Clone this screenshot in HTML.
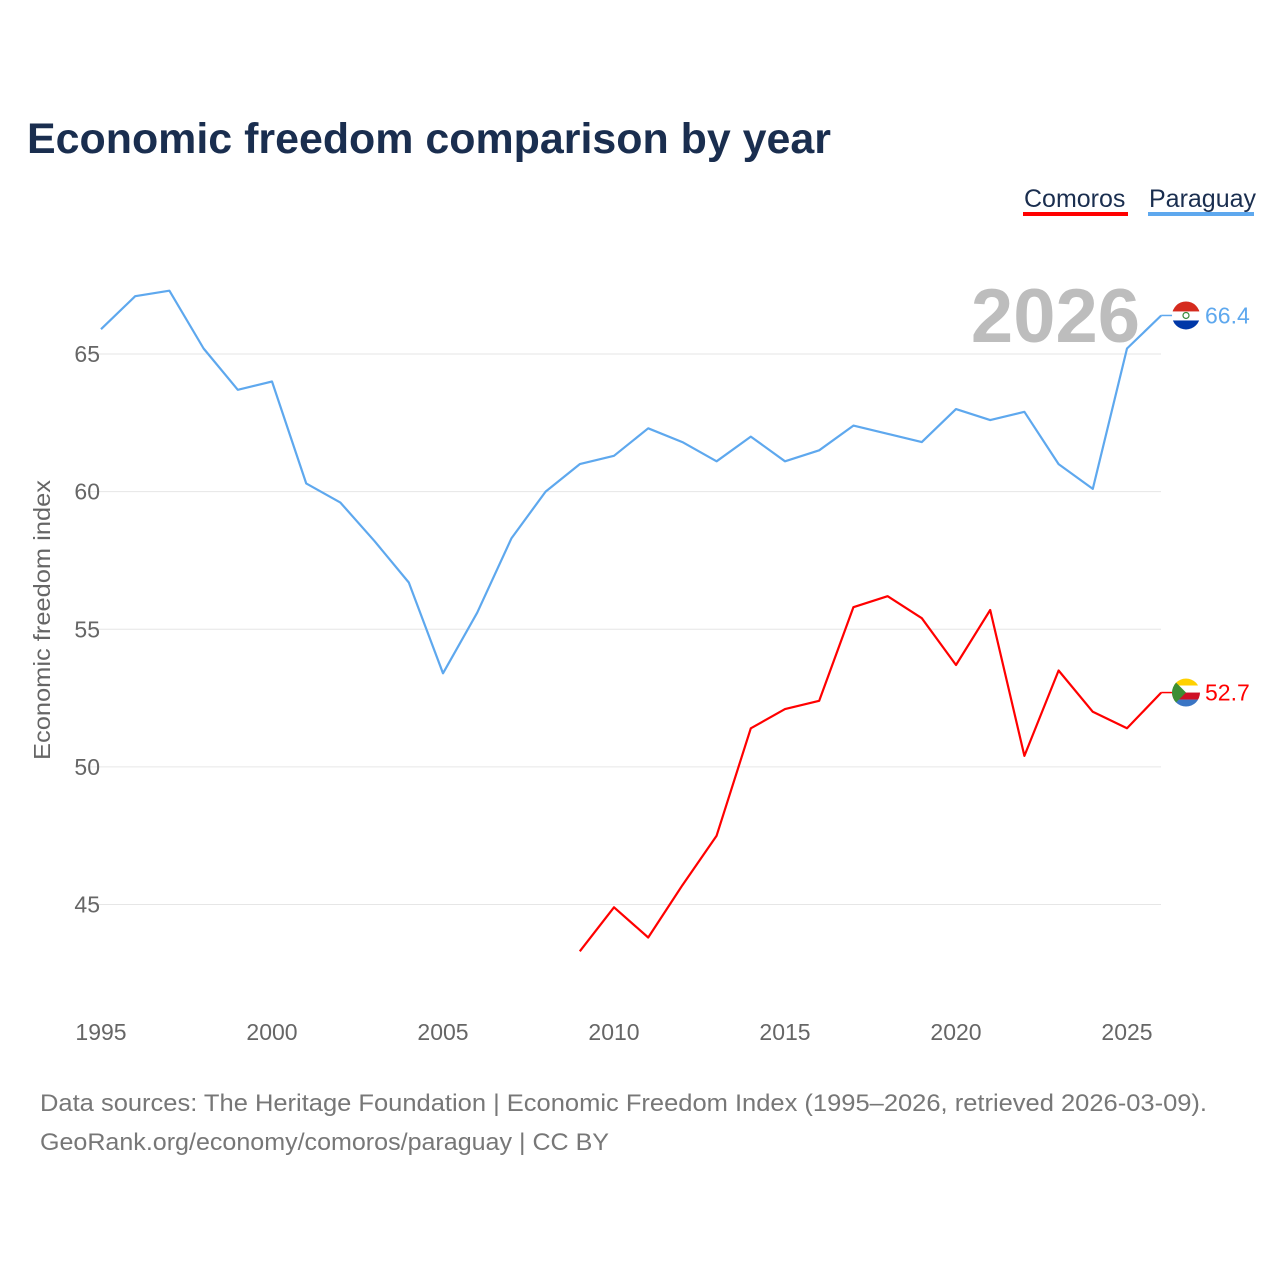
<!DOCTYPE html>
<html><head><meta charset="utf-8">
<style>
body{margin:0;background:#fff;font-family:"Liberation Sans",sans-serif;}
#wrap{position:relative;width:1280px;height:1280px;overflow:hidden;}
</style></head>
<body>
<div id="wrap">
<svg id="chart" width="1280" height="1280" xmlns="http://www.w3.org/2000/svg">
  <text x="27" y="153" font-size="43" font-weight="bold" fill="#1a2e4f" textLength="804" lengthAdjust="spacingAndGlyphs">Economic freedom comparison by year</text>
  <g>
    <text x="1024" y="207" font-size="25" fill="#1a2e4f">Comoros</text>
    <rect x="1023" y="212" width="105" height="4" fill="#ff0000"/>
    <text x="1149" y="207" font-size="25" fill="#1a2e4f">Paraguay</text>
    <rect x="1148" y="212" width="106" height="4" fill="#5ea8ee"/>
  </g>
  <g id="grid"></g>
  <g id="yticks"></g>
  <g id="xticks"></g>
  <text x="1140" y="342" text-anchor="end" font-size="76" font-weight="bold" fill="#bdbdbd">2026</text>
  <text transform="translate(50,620) rotate(-90)" text-anchor="middle" font-size="23" fill="#666" textLength="280" lengthAdjust="spacingAndGlyphs">Economic freedom index</text>
  <g id="series"></g>
  <text x="40" y="1111" font-size="24" fill="#777" textLength="1167" lengthAdjust="spacingAndGlyphs">Data sources: The Heritage Foundation | Economic Freedom Index (1995–2026, retrieved 2026-03-09).</text>
  <text x="40" y="1150" font-size="24" fill="#777" textLength="569" lengthAdjust="spacingAndGlyphs">GeoRank.org/economy/comoros/paraguay | CC BY</text>
</svg>
</div>
<script>
const years = [1995,1996,1997,1998,1999,2000,2001,2002,2003,2004,2005,2006,2007,2008,2009,2010,2011,2012,2013,2014,2015,2016,2017,2018,2019,2020,2021,2022,2023,2024,2025,2026];
const paraguay = [65.9,67.1,67.3,65.2,63.7,64.0,60.3,59.6,58.2,56.7,53.4,55.6,58.3,60.0,61.0,61.3,62.3,61.8,61.1,62.0,61.1,61.5,62.4,62.1,61.8,63.0,62.6,62.9,61.0,60.1,65.2,66.4];
const comorosYears = [2009,2010,2011,2012,2013,2014,2015,2016,2017,2018,2019,2020,2021,2022,2023,2024,2025,2026];
const comoros = [43.3,44.9,43.8,45.7,47.5,51.4,52.1,52.4,55.8,56.2,55.4,53.7,55.7,50.4,53.5,52.0,51.4,52.7];
const yTickValues = [45,50,55,60,65];
const xTickValues = [1995,2000,2005,2010,2015,2020,2025];

const NS="http://www.w3.org/2000/svg";
const xS = y => 101 + (y-1995)*(1127-101)/30;
const yS = v => 354 + (65-v)*(904.5-354)/20;
function mk(tag, attrs, parent){const e=document.createElementNS(NS,tag);for(const k in attrs)e.setAttribute(k,attrs[k]);parent.appendChild(e);return e;}
const grid=document.getElementById('grid'), yt=document.getElementById('yticks'), xt=document.getElementById('xticks'), ser=document.getElementById('series');
yTickValues.forEach(v=>{
  const l=mk('line',{x1:90,x2:1161,y1:yS(v),y2:yS(v),stroke:'#e6e6e6','stroke-width':1},grid);
  
  
  const t=mk('text',{x:100,y:yS(v)+8,'text-anchor':'end','font-size':23,fill:'#666'},yt);
  t.textContent=v;
  
  
});
xTickValues.forEach(v=>{
  const t=mk('text',{x:xS(v),y:1040,'text-anchor':'middle','font-size':23,fill:'#666'},xt);
  t.textContent=v;
  
  
});
function line(xs, vs, color, name){
  const d=vs.map((v,i)=>(i?'L':'M')+xS(xs[i]).toFixed(1)+','+yS(v).toFixed(1)).join('');
  const p=mk('path',{d:d,fill:'none',stroke:color,'stroke-width':2.2,'stroke-linejoin':'round'},ser);
  
  
  const last=vs[vs.length-1], ly=yS(last);
  const c=mk('line',{x1:xS(xs[xs.length-1]),x2:1175,y1:ly,y2:ly,stroke:color,'stroke-width':1.5},ser);
  
  
  const g=mk('g',{},ser);
  
  
  if(name==='paraguay'){
    mk('clipPath',{id:'cp'},g); mk('circle',{cx:1186,cy:ly,r:14},g.lastChild);
    mk('rect',{x:1172,y:ly-14,width:28,height:10,fill:'#d52b1e','clip-path':'url(#cp)'},g);
    mk('rect',{x:1172,y:ly-4,width:28,height:9,fill:'#fff','clip-path':'url(#cp)'},g);
    mk('rect',{x:1172,y:ly+5,width:28,height:10,fill:'#0038a8','clip-path':'url(#cp)'},g);
    mk('circle',{cx:1186,cy:ly,r:3,fill:'none',stroke:'#3a8a3a','stroke-width':1.2},g);
  } else {
    mk('clipPath',{id:'cc'},g); mk('circle',{cx:1186,cy:ly,r:14},g.lastChild);
    mk('rect',{x:1172,y:ly-14,width:28,height:7,fill:'#ffd100','clip-path':'url(#cc)'},g);
    mk('rect',{x:1172,y:ly-7,width:28,height:7,fill:'#fff','clip-path':'url(#cc)'},g);
    mk('rect',{x:1172,y:ly,width:28,height:7,fill:'#ce1126','clip-path':'url(#cc)'},g);
    mk('rect',{x:1172,y:ly+7,width:28,height:8,fill:'#3a75c4','clip-path':'url(#cc)'},g);
    mk('path',{d:`M1172,${ly-14} L1186,${ly} L1172,${ly+14} Z`,fill:'#3d8e33','clip-path':'url(#cc)'},g);
  }
  const t=mk('text',{x:1205,y:ly+8,'font-size':23,fill:color},ser);
  t.textContent=last.toFixed(1);
  
  
}
line(years, paraguay, '#5ea8ee', 'paraguay');
line(comorosYears, comoros, '#ff0000', 'comoros');
</script>
</body></html>
